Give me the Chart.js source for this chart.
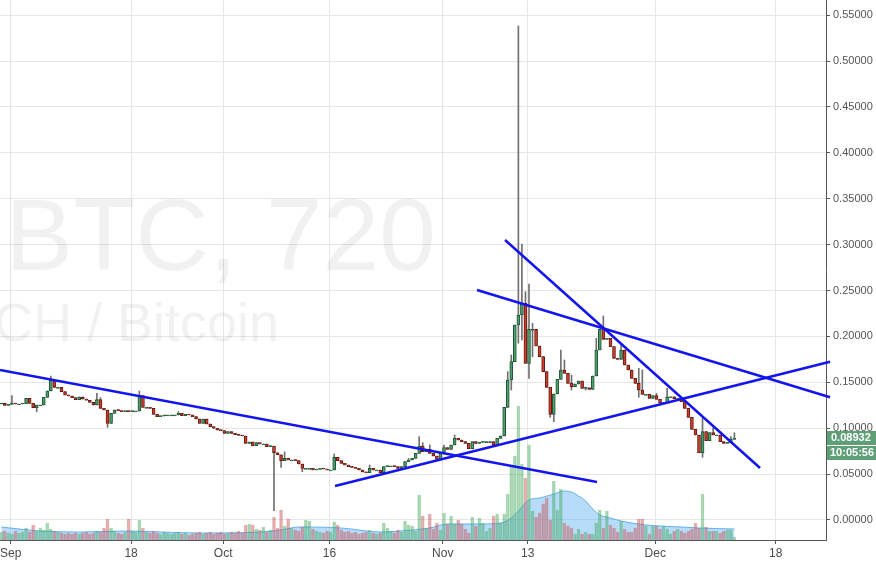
<!DOCTYPE html>
<html>
<head>
<meta charset="utf-8">
<script src="https://cdn.jsdelivr.net/npm/chart.js@4.4.1/dist/chart.umd.min.js"></script>
<style>
  html, body { margin: 0; padding: 0; background: #ffffff; }
</style>
</head>
<body>
<canvas id="chart" width="876" height="563"></canvas>
<script>
// BCH/BTC, 12h candles

// time axis: days after 1 Sep, one candle every 12h
const firstCandleDay = -1.33;
const candleStep = 0.5;
const dateTicks = [0, 17, 30, 45, 61, 73, 91, 108];
const dateTickLabels = ['Sep', '18', 'Oct', '16', 'Nov', '13', 'Dec', '18'];
const priceTicks = [0, 0.05, 0.10, 0.15, 0.20, 0.25, 0.30, 0.35, 0.40, 0.45, 0.50, 0.55];

// open of the first candle, every other open is the previous close
const firstOpen = 0.1264;
const closes = [
  0.1271, 0.1249, 0.1260, 0.1271, 0.1264, 0.1264, 0.1267, 0.1325, 0.1271, 0.1224,
  0.1253, 0.1253, 0.1336, 0.1405, 0.1525, 0.1445, 0.1445, 0.1398, 0.1362, 0.1351,
  0.1333, 0.1311, 0.1340, 0.1318, 0.1304, 0.1282, 0.1253, 0.1311, 0.1216, 0.1198,
  0.1053, 0.1162, 0.1198, 0.1191, 0.1180, 0.1187, 0.1180, 0.1187, 0.1187, 0.1354,
  0.1227, 0.1227, 0.1216, 0.1151, 0.1126, 0.1133, 0.1144, 0.1144, 0.1144, 0.1144,
  0.1162, 0.1137, 0.1151, 0.1144, 0.1126, 0.1100, 0.1053, 0.1100, 0.1046, 0.1017,
  0.0999, 0.0980, 0.0973, 0.0944, 0.0962, 0.0944, 0.0930, 0.0922, 0.0915, 0.0835,
  0.0850, 0.0810, 0.0842, 0.0828, 0.0828, 0.0799, 0.0806, 0.0733, 0.0711, 0.0646,
  0.0672, 0.0654, 0.0654, 0.0646, 0.0610, 0.0563, 0.0563, 0.0563, 0.0545, 0.0552,
  0.0563, 0.0556, 0.0545, 0.0545, 0.0683, 0.0646, 0.0617, 0.0599, 0.0581, 0.0574,
  0.0563, 0.0545, 0.0523, 0.0515, 0.0563, 0.0545, 0.0545, 0.0515, 0.0581, 0.0588,
  0.0588, 0.0581, 0.0563, 0.0581, 0.0635, 0.0654, 0.0672, 0.0726, 0.0806, 0.0744,
  0.0770, 0.0726, 0.0697, 0.0661, 0.0737, 0.0788, 0.0770, 0.0817, 0.0890, 0.0871,
  0.0853, 0.0835, 0.0777, 0.0853, 0.0835, 0.0846, 0.0853, 0.0853, 0.0853, 0.0817,
  0.0890, 0.0915, 0.1227, 0.1525, 0.1725, 0.2124, 0.2233, 0.2360, 0.1707, 0.2077,
  0.2077, 0.1895, 0.1779, 0.1616, 0.1445, 0.1151, 0.1373, 0.1532, 0.1634, 0.1598,
  0.1489, 0.1452, 0.1481, 0.1514, 0.1434, 0.1441, 0.1423, 0.1569, 0.1852, 0.2077,
  0.1968, 0.1979, 0.1888, 0.1761, 0.1750, 0.1852, 0.1688, 0.1634, 0.1543, 0.1489,
  0.1416, 0.1369, 0.1369, 0.1325, 0.1354, 0.1314, 0.1278, 0.1278, 0.1343, 0.1343,
  0.1322, 0.1322, 0.1289, 0.1216, 0.1118, 0.0988, 0.0926, 0.0733, 0.0962, 0.0864,
  0.0951, 0.0926, 0.0926, 0.0853, 0.0835, 0.0842, 0.0879, 0.0893
];

// wicks that stick out past the body (candle index -> price)
const wickHighs = {
  3: 0.1354, 14: 0.1569, 27: 0.1380, 28: 0.1333, 39: 0.1405, 50: 0.1180,
  80: 0.0741, 94: 0.0719, 104: 0.0599, 115: 0.0672, 118: 0.0908, 119: 0.0842,
  121: 0.0817, 125: 0.0817, 128: 0.0926, 143: 0.1616, 144: 0.1797, 146: 0.5381,
  147: 0.3007, 148: 0.2487, 149: 0.2571, 150: 0.2142, 158: 0.1852, 159: 0.1743,
  161: 0.1579, 168: 0.1979, 170: 0.2222, 175: 0.1924, 180: 0.1652, 181: 0.1634,
  185: 0.1380, 188: 0.1434, 198: 0.1107, 201: 0.1005, 206: 0.0908, 207: 0.0951
};
const wickLows = {
  10: 0.1180, 30: 0.1009, 77: 0.0101, 79: 0.0574, 85: 0.0526, 144: 0.1416,
  146: 0.1925, 147: 0.1961, 149: 0.1543, 150: 0.1779, 155: 0.1118, 156: 0.1071,
  161: 0.1416, 165: 0.1416, 180: 0.1336, 198: 0.0683
};

// volume per candle (relative units)
const volumes = [
  8, 9, 7, 6, 9, 7, 8, 12, 8, 15,
  9, 12, 10, 17, 11, 9, 8, 7, 6, 7,
  6, 7, 6, 7, 8, 6, 7, 9, 8, 12,
  21, 12, 9, 7, 6, 8, 21, 9, 8, 20,
  12, 8, 7, 9, 7, 6, 8, 7, 6, 7,
  8, 6, 7, 5, 6, 7, 8, 6, 7, 8,
  6, 7, 8, 6, 7, 8, 7, 9, 7, 15,
  16, 15, 11, 10, 13, 8, 10, 23, 12, 30,
  14, 21, 12, 10, 9, 13, 20, 19, 11, 9,
  8, 7, 9, 8, 18, 15, 10, 8, 9, 7,
  8, 6, 7, 8, 10, 7, 6, 7, 17, 12,
  9, 7, 10, 8, 19, 15, 14, 9, 45, 24,
  12, 26, 11, 17, 10, 27, 16, 24, 16, 20,
  16, 11, 7, 23, 14, 22, 17, 9, 12, 24,
  26, 17, 26, 46, 75, 84, 134, 76, 62, 95,
  29, 23, 27, 36, 42, 20, 59, 30, 51, 17,
  14, 12, 6, 11, 6, 8, 6, 6, 17, 30,
  12, 29, 15, 12, 8, 19, 11, 8, 8, 12,
  21, 21, 14, 6, 14, 14, 11, 14, 11, 6,
  9, 11, 9, 7, 9, 11, 17, 12, 46, 13,
  9, 9, 9, 7, 9, 10, 10, 3
];

// volume moving average, read at these candle indices
const volMaIdx = [0, 5, 11, 22, 36, 45, 56, 73, 79, 84, 96, 107, 116, 121, 126, 135, 141, 144, 146, 149,
  152, 156, 159, 161, 163, 165, 167, 169, 171, 175, 178, 182, 186, 192, 197, 207];
const volMaVal = [13, 11, 9, 8, 9, 8, 7, 8, 10, 13, 12, 8, 10, 12, 16, 16, 17, 22, 29, 40,
  42, 46, 49, 48, 44, 39, 31, 25, 23, 19, 17, 15, 14, 13, 12, 11];

// hand-drawn trend lines: [day, price] end points
const trendLines = [
  [[-1.51, 0.1634], [82.77, 0.0414]],
  [[45.79, 0.0370], [115.67, 0.1723]],
  [[65.83, 0.2505], [115.67, 0.1337]],
  [[69.79, 0.3050], [105.79, 0.0566]]
];

const lastPrice = 0.08932;
const countdown = '10:05:56';
const watermarkTitle = 'BTC, 720';
const watermarkSub = 'CH / Bitcoin';

// derived candle fields
const days = closes.map((c, i) => firstCandleDay + i * candleStep);
const opens = closes.map((c, i) => (i === 0 ? firstOpen : closes[i - 1]));
const highs = closes.map((c, i) => wickHighs[i] ?? Math.max(opens[i], c));
const lows = closes.map((c, i) => wickLows[i] ?? Math.min(opens[i], c));
const isUp = closes.map((c, i) => c >= opens[i]);

const FONT = '"Liberation Sans", Arial, sans-serif';
const UP = '#4f9d6c', UP_EDGE = '#1f5534';
const DOWN = '#cf3d2c', DOWN_EDGE = '#641a11';

// big faint symbol text behind the candles
const watermark = {
  id: 'watermark',
  beforeDatasetsDraw(chart) {
    const c = chart.ctx;
    c.save();
    c.fillStyle = 'rgba(0,0,0,0.055)';
    c.font = '102px ' + FONT;
    c.fillText(watermarkTitle, 5, 270);
    c.font = '54px ' + FONT;
    c.fillText(watermarkSub, -6, 341);
    c.restore();
  }
};

// last price + countdown boxes on the price axis
const priceBox = {
  id: 'priceBox',
  afterDraw(chart) {
    const c = chart.ctx;
    const area = chart.chartArea;
    const y = chart.scales.y.getPixelForValue(lastPrice);
    c.save();
    c.fillStyle = '#5e9f76';
    c.fillRect(area.right + 1, y - 7, 50, 14);
    c.fillRect(area.right + 1, y + 8, 50, 14);
    c.fillStyle = '#ffffff';
    c.font = 'bold 11px ' + FONT;
    c.textBaseline = 'middle';
    c.fillText(lastPrice.toFixed(5), area.right + 5, y);
    c.fillText(countdown, area.right + 4, y + 15);
    c.restore();
  }
};

// keep the plot flush with the canvas edges
const noPadding = s => { s.paddingTop = 0; s.paddingBottom = 0; s.paddingLeft = 0; s.paddingRight = 0; };

const ctx = document.getElementById('chart');
new Chart(ctx, {
  type: 'bar',
  data: {
    datasets: [
      {
        type: 'line',
        yAxisID: 'yv',
        data: volMaIdx.map((k, i) => ({ x: days[k], y: volMaVal[i] })),
        fill: 'origin',
        backgroundColor: 'rgba(96,178,243,0.45)',
        borderColor: 'rgba(90,170,238,0.9)',
        borderWidth: 1,
        pointRadius: 0,
        cubicInterpolationMode: 'monotone',
        order: 10
      },
      {
        yAxisID: 'yv',
        data: days.map((d, i) => ({ x: d, y: volumes[i] })),
        backgroundColor: isUp.map(u => (u ? 'rgba(70,170,95,0.22)' : 'rgba(200,85,85,0.22)')),
        borderColor: isUp.map(u => (u ? 'rgba(70,170,95,0.45)' : 'rgba(200,85,85,0.45)')),
        borderWidth: 1,
        barThickness: 3,
        grouped: false,
        order: 9
      },
      {
        yAxisID: 'y',
        data: days.map((d, i) => ({ x: d, y: [lows[i], highs[i]] })),
        backgroundColor: '#707070',
        barThickness: 1,
        grouped: false,
        order: 5
      },
      {
        yAxisID: 'y',
        data: days.map((d, i) => ({ x: d, y: [opens[i], closes[i]] })),
        backgroundColor: isUp.map(u => (u ? UP : DOWN)),
        borderColor: isUp.map(u => (u ? UP_EDGE : DOWN_EDGE)),
        borderWidth: 1,
        borderSkipped: false,
        barThickness: 3,
        minBarLength: 1,
        grouped: false,
        order: 4
      },
      ...trendLines.map(line => ({
        type: 'line',
        yAxisID: 'y',
        data: line.map(p => ({ x: p[0], y: p[1] })),
        borderColor: '#1414f0',
        borderWidth: 2.5,
        pointRadius: 0,
        clip: 6,
        order: 1
      }))
    ]
  },
  options: {
    responsive: false,
    animation: false,
    events: [],
    layout: { padding: 0 },
    plugins: { legend: { display: false }, tooltip: { enabled: false } },
    scales: {
      x: {
        type: 'linear',
        min: -1.51,
        max: 115.1,
        offset: false,
        afterBuildTicks: s => { s.ticks = dateTicks.map(v => ({ value: v })); },
        afterFit: s => { s.height = 23; noPadding(s); },
        ticks: {
          callback: (v, i) => dateTickLabels[i],
          color: '#4a4a4a',
          font: { size: 12, family: FONT },
          maxRotation: 0,
          autoSkip: false,
          padding: 2
        },
        grid: { offset: false, color: '#e6e6e6', tickColor: '#555555', tickLength: 4 },
        border: { color: '#555555' }
      },
      y: {
        position: 'right',
        min: -0.02179,
        max: 0.56645,
        afterBuildTicks: s => { s.ticks = priceTicks.map(v => ({ value: v })); },
        afterFit: s => { s.width = 50; noPadding(s); },
        ticks: {
          callback: v => v.toFixed(5),
          color: '#555555',
          font: { size: 11, family: FONT },
          padding: 3
        },
        grid: { color: '#e6e6e6', tickColor: '#555555', tickLength: 4 },
        border: { color: '#555555' }
      },
      yv: { display: false, min: 0, max: 540, afterFit: noPadding }
    }
  },
  plugins: [watermark, priceBox]
});
</script>
</body>
</html>
